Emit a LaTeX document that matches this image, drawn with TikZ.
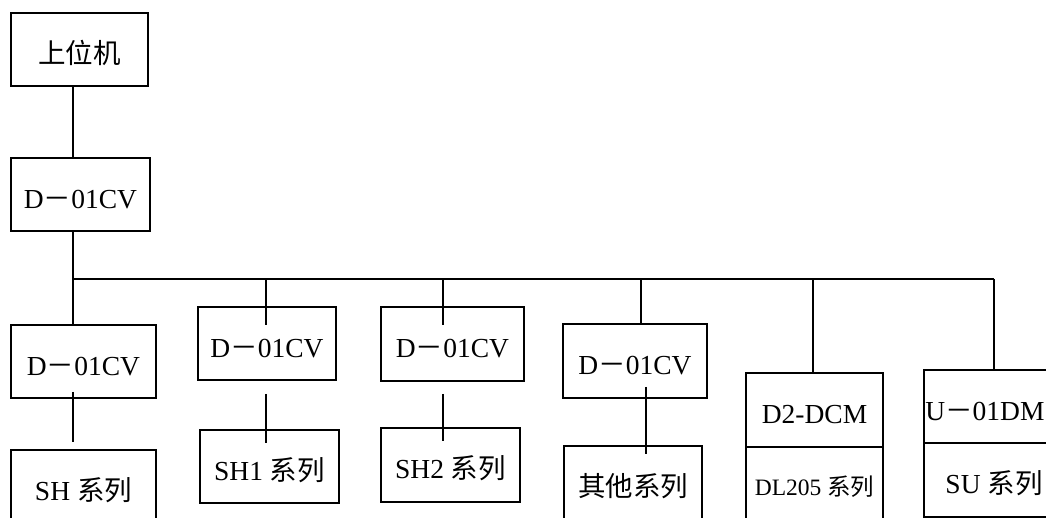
\documentclass[tikz,border=0pt]{standalone}
\usepackage{fontspec}
\setmainfont{Liberation Serif}
\newfontfamily\cjk{Noto Sans CJK SC}
\usetikzlibrary{calc}
\begin{document}
\begin{tikzpicture}[x=1pt,y=-1pt,
  box/.style={draw, line width=1.8pt, rectangle, inner sep=0pt, minimum height=73pt,
    text height=27.5pt, text depth=0pt, font=\fontsize{27.5}{30}\selectfont},
  lbl/.style={inner sep=0pt, text height=27.5pt, text depth=0pt, font=\fontsize{27.5}{30}\selectfont},
  wire/.style={line width=1.8pt}]
\useasboundingbox (0,0) rectangle (1046,518);
\clip (0,0) rectangle (1046,518);
% boxes
\node[box, minimum width=137pt] (top) at (79.5,49.5) {{\cjk 上位机}};
\node[box, minimum width=139pt] (cv) at (80.5,194.5) {D{\cjk －}01CV};
\node[box, minimum width=145pt] (c1) at (83.5,361.5) {D{\cjk －}01CV};
\node[box, minimum width=145pt] (s1) at (83.5,486.5) {SH {\cjk 系列}};
\node[box, minimum width=138pt] (c2) at (267,343.5) {D{\cjk －}01CV};
\node[box, minimum width=139pt] (s2) at (269.5,466.5) {SH1 {\cjk 系列}};
\node[box, minimum width=143pt, minimum height=74pt] (c3) at (452.5,344) {D{\cjk －}01CV};
\node[box, minimum width=139pt, minimum height=74pt] (s3) at (450.5,465) {SH2 {\cjk 系列}};
\node[box, minimum width=144pt, minimum height=74pt] (c4) at (635,361) {D{\cjk －}01CV};
\node[box, minimum width=138pt, minimum height=74pt] (s4) at (633,483) {{\cjk 其他系列}};
\node[box, minimum width=137pt, minimum height=74pt] (c5) at (814.5,410) {D2-DCM};
\node[box, minimum width=137pt, minimum height=74pt, text height=23.5pt, font=\fontsize{23.5}{26}\selectfont] (s5) at (814.5,484) {DL205 {\cjk 系列}};
\node[box, minimum width=140pt] (c6) at (994,406.5) {};
\node[lbl, anchor=west] (c6t) at ([xshift=2pt]c6.west) {U{\cjk －}01DM};
\node[box, minimum width=140pt, minimum height=74pt] (s6) at (994,480) {SU {\cjk 系列}};
% bus coordinates
\coordinate (busL) at (73,279);
\coordinate (busR) at (994,279);
\coordinate (d2) at (266,279);
\coordinate (d3) at (443,279);
\coordinate (d4) at (641,279);
\coordinate (d5) at (813,279);
\coordinate (x4) at (646,279);
% connectors
\draw[wire] (top.south -| busL) -- (cv.north -| busL);
\draw[wire] (cv.south -| busL) -- (busL);
\draw[wire] (busL) -- (busR);
\draw[wire] (busL) -- (c1.north -| busL);
\draw[wire] (d2) -- ($(d2 |- c2.north)+(0,19)$);
\draw[wire] (d3) -- ($(d3 |- c3.north)+(0,19)$);
\draw[wire] (d4) -- (d4 |- c4.north);
\draw[wire] (d5) -- (d5 |- c5.north);
\draw[wire] (busR) -- (busR |- c6.north);
\draw[wire] ($(c1.south -| busL)+(0,-7)$) -- ($(s1.north -| busL)+(0,-7)$);
\draw[wire] ($(c2.south -| d2)+(0,13)$) -- ($(s2.north -| d2)+(0,14)$);
\draw[wire] ($(c3.south -| d3)+(0,12)$) -- ($(s3.north -| d3)+(0,14)$);
\draw[wire] ($(c4.south -| x4)+(0,-12)$) -- ($(s4.north -| x4)+(0,9)$);
\end{tikzpicture}
\end{document}
